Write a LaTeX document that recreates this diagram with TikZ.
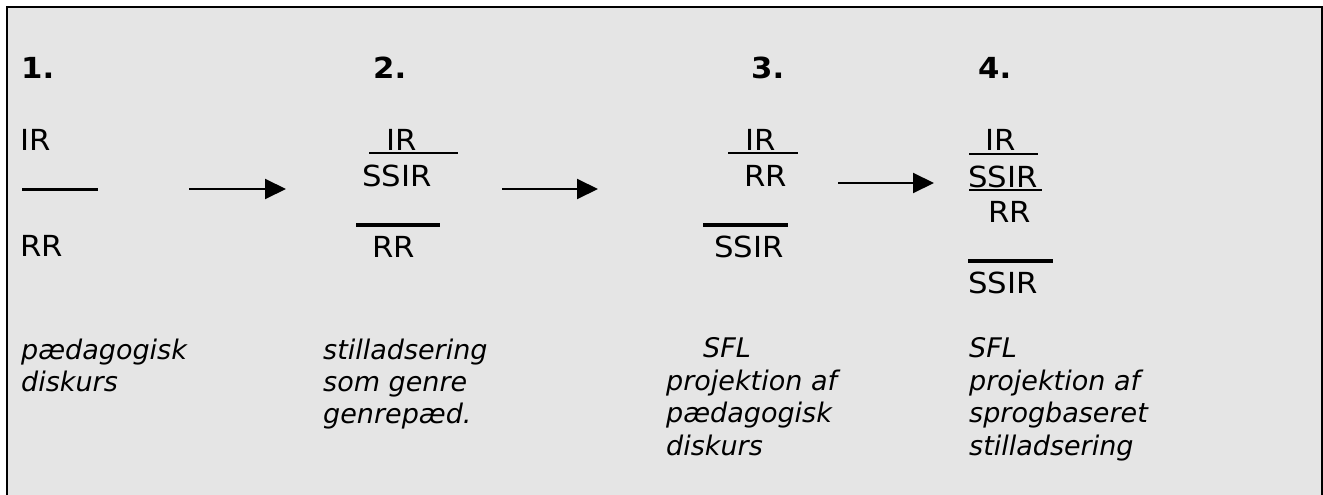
\documentclass[tikz,border=0pt]{standalone}
\usepackage{fontspec}
\setmainfont{DejaVu Sans}
\newfontfamily\widesans{DejaVu Sans}[FakeStretch=1.06]
\usetikzlibrary{arrows.meta}
\definecolor{bggray}{RGB}{229,229,229}
\begin{document}
\begin{tikzpicture}[x=1pt,y=-1pt,
  lbl/.style={font=\widesans\fontsize{29}{32}\selectfont, anchor=base west, inner sep=0pt},
  num/.style={font=\widesans\bfseries\fontsize{29}{32}\selectfont, anchor=base west, inner sep=0pt},
  itx/.style={font=\itshape\fontsize{27}{32}\selectfont, anchor=base west, inner sep=0pt},
  thinbar/.style={line width=2pt},
  thickbar/.style={line width=4pt},
  arr/.style={line width=2pt, -{Triangle[length=21pt,width=20pt]}}]
\useasboundingbox (0,0) rectangle (1323,495);
\clip (0,0) rectangle (1323,495);
\fill[white] (0,0) rectangle (1323,495);
\draw[line width=2pt, fill=bggray] (7,7) rectangle (1322,510);

% numbers
\node[num] (n1) at (21,79) {1.};
\node[num] (n2) at (373,79) {2.};
\node[num] (n3) at (751,79) {3.};
\node[num] (n4) at (978,79) {4.};

% column 1
\node[lbl] (c1ir) at (20,150) {IR};
\node[lbl] (c1rr) at (20,256) {RR};
\coordinate (c1la) at (22,189.5);
\coordinate (c1lb) at (98,189.5);
\draw[line width=3pt] (c1la) -- (c1lb);

% column 2
\node[lbl] (c2ir) at (386,150) {IR};
\node[lbl] (c2ssir) at (362,186) {SSIR};
\node[lbl] (c2rr) at (372,257) {RR};
\coordinate (c2ua) at (369,153);
\coordinate (c2ub) at (458,153);
\draw[thinbar] (c2ua) -- (c2ub);
\coordinate (c2la) at (356,225);
\coordinate (c2lb) at (440,225);
\draw[thickbar] (c2la) -- (c2lb);

% column 3
\node[lbl] (c3ir) at (745,150) {IR};
\node[lbl] (c3rr) at (744,186) {RR};
\node[lbl] (c3ssir) at (714,257) {SSIR};
\coordinate (c3ua) at (728,153);
\coordinate (c3ub) at (798,153);
\draw[thinbar] (c3ua) -- (c3ub);
\coordinate (c3la) at (703,225);
\coordinate (c3lb) at (788,225);
\draw[thickbar] (c3la) -- (c3lb);

% column 4
\node[lbl] (c4ir) at (985,150) {IR};
\node[lbl] (c4ssir) at (968,187) {SSIR};
\node[lbl] (c4rr) at (988,222) {RR};
\node[lbl] (c4ssirb) at (968,293) {SSIR};
\coordinate (c4ua) at (969,154);
\coordinate (c4ub) at (1038,154);
\draw[thinbar] (c4ua) -- (c4ub);
\coordinate (c4va) at (969,189.5);
\coordinate (c4vb) at (1042,189.5);
\draw[thinbar] (c4va) -- (c4vb);
\coordinate (c4la) at (968,261);
\coordinate (c4lb) at (1053,261);
\draw[thickbar] (c4la) -- (c4lb);

% arrows
\coordinate (a1s) at (189,189);
\coordinate (a1e) at (286,189);
\draw[arr] (a1s) -- (a1e);
\coordinate (a2s) at (502,189);
\coordinate (a2e) at (598,189);
\draw[arr] (a2s) -- (a2e);
\coordinate (a3s) at (838,183);
\coordinate (a3e) at (934,183);
\draw[arr] (a3s) -- (a3e);

% italic descriptions
\node[itx] (t1a) at (21,359) {pædagogisk};
\node[itx] (t1b) at (21,391) {diskurs};

\node[itx] (t2a) at (323,359) {stilladsering};
\node[itx] (t2b) at (323,391) {som genre};
\node[itx] (t2c) at (323,423) {genrepæd.};

\node[itx] (t3a) at (703,357) {SFL};
\node[itx] (t3b) at (666,390) {projektion af};
\node[itx] (t3c) at (666,422.5) {pædagogisk};
\node[itx] (t3d) at (666,455) {diskurs};

\node[itx] (t4a) at (969,357) {SFL};
\node[itx] (t4b) at (969,390) {projektion af};
\node[itx] (t4c) at (969,422.5) {sprogbaseret};
\node[itx] (t4d) at (969,455) {stilladsering};
\end{tikzpicture}
\end{document}
